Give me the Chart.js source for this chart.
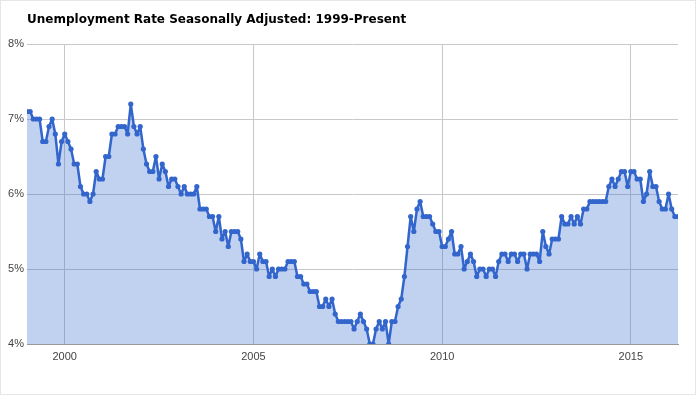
<!DOCTYPE html>
<html>
<head>
<meta charset="utf-8">
<title>Unemployment Rate</title>
<style>
  body { margin: 0; background: #fff; }
  #wrap { width: 696px; height: 395px; box-sizing: border-box; border: 1px solid #e6e6e6; }
  canvas { display: block; }
</style>
</head>
<body>
<div id="wrap">
  <canvas id="chart" width="694" height="393"></canvas>
</div>
<script src="https://cdn.jsdelivr.net/npm/chart.js@4.4.1/dist/chart.umd.min.js"></script>
<script>
// monthly data, first value is Jan 1999
var titleText = 'Unemployment Rate Seasonally Adjusted: 1999-Present';
var startYear = 1999;
var rates = [
  7.1, 7.1, 7.0, 7.0, 7.0, 6.7, 6.7, 6.9, 7.0, 6.8, 6.4, 6.7,
  6.8, 6.7, 6.6, 6.4, 6.4, 6.1, 6.0, 6.0, 5.9, 6.0, 6.3, 6.2,
  6.2, 6.5, 6.5, 6.8, 6.8, 6.9, 6.9, 6.9, 6.8, 7.2, 6.9, 6.8,
  6.9, 6.6, 6.4, 6.3, 6.3, 6.5, 6.2, 6.4, 6.3, 6.1, 6.2, 6.2,
  6.1, 6.0, 6.1, 6.0, 6.0, 6.0, 6.1, 5.8, 5.8, 5.8, 5.7, 5.7,
  5.5, 5.7, 5.4, 5.5, 5.3, 5.5, 5.5, 5.5, 5.4, 5.1, 5.2, 5.1,
  5.1, 5.0, 5.2, 5.1, 5.1, 4.9, 5.0, 4.9, 5.0, 5.0, 5.0, 5.1,
  5.1, 5.1, 4.9, 4.9, 4.8, 4.8, 4.7, 4.7, 4.7, 4.5, 4.5, 4.6,
  4.5, 4.6, 4.4, 4.3, 4.3, 4.3, 4.3, 4.3, 4.2, 4.3, 4.4, 4.3,
  4.2, 4.0, 4.0, 4.2, 4.3, 4.2, 4.3, 4.0, 4.3, 4.3, 4.5, 4.6,
  4.9, 5.3, 5.7, 5.5, 5.8, 5.9, 5.7, 5.7, 5.7, 5.6, 5.5, 5.5,
  5.3, 5.3, 5.4, 5.5, 5.2, 5.2, 5.3, 5.0, 5.1, 5.2, 5.1, 4.9,
  5.0, 5.0, 4.9, 5.0, 5.0, 4.9, 5.1, 5.2, 5.2, 5.1, 5.2, 5.2,
  5.1, 5.2, 5.2, 5.0, 5.2, 5.2, 5.2, 5.1, 5.5, 5.3, 5.2, 5.4,
  5.4, 5.4, 5.7, 5.6, 5.6, 5.7, 5.6, 5.7, 5.6, 5.8, 5.8, 5.9,
  5.9, 5.9, 5.9, 5.9, 5.9, 6.1, 6.2, 6.1, 6.2, 6.3, 6.3, 6.1,
  6.3, 6.3, 6.2, 6.2, 5.9, 6.0, 6.3, 6.1, 6.1, 5.9, 5.8, 5.8,
  6.0, 5.8, 5.7, 5.7
];
var yearTicks = [2000, 2005, 2010, 2015];
var percentTicks = [4, 5, 6, 7, 8];

var points = rates.map(function (v, i) {
  return { x: startYear + i / 12, y: v };
});

// title drawn straight on the canvas, top left
var titlePlugin = {
  id: 'titleText',
  afterDraw: function (chart) {
    var ctx = chart.ctx;
    ctx.save();
    ctx.font = 'bold 12px "DejaVu Sans"';
    ctx.fillStyle = '#000';
    ctx.textBaseline = 'alphabetic';
    ctx.fillText(titleText, 26, 22);
    ctx.restore();
  }
};

new Chart(document.getElementById('chart'), {
  type: 'line',
  data: {
    datasets: [{
      data: points,
      borderColor: '#3366cc',
      backgroundColor: 'rgba(51,102,204,0.3)',
      fill: 'origin',
      borderWidth: 2.5,
      borderJoinStyle: 'round',
      pointRadius: 2.6,
      pointBackgroundColor: '#3366cc',
      pointBorderWidth: 0,
      tension: 0
    }]
  },
  options: {
    responsive: false,
    animation: false,
    layout: { padding: { top: 43, right: 17, left: 0, bottom: 0 } },
    plugins: {
      legend: { display: false },
      tooltip: { enabled: false }
    },
    scales: {
      x: {
        type: 'linear',
        min: startYear,
        max: startYear + (rates.length - 1) / 12,
        afterBuildTicks: function (scale) {
          scale.ticks = yearTicks.map(function (v) { return { value: v }; });
        },
        afterFit: function (scale) { scale.height = 50; },
        ticks: {
          padding: 6,
          color: '#444',
          font: { family: 'Liberation Sans', size: 11 },
          maxRotation: 0,
          callback: function (v) { return String(v); }
        },
        grid: { color: '#c8c8c8', drawTicks: false },
        border: { color: '#999' }
      },
      y: {
        min: 4,
        max: 8,
        afterBuildTicks: function (scale) {
          scale.ticks = percentTicks.map(function (v) { return { value: v }; });
        },
        afterFit: function (scale) { scale.width = 26; },
        ticks: {
          padding: 3,
          color: '#444',
          font: { family: 'Liberation Sans', size: 11 },
          callback: function (v) { return v + '%'; }
        },
        grid: {
          color: function (c) { return c.tick && c.tick.value === 4 ? 'rgba(0,0,0,0)' : '#c8c8c8'; },
          drawTicks: false
        },
        border: { display: false }
      }
    }
  },
  plugins: [titlePlugin]
});
</script>
</body>
</html>
